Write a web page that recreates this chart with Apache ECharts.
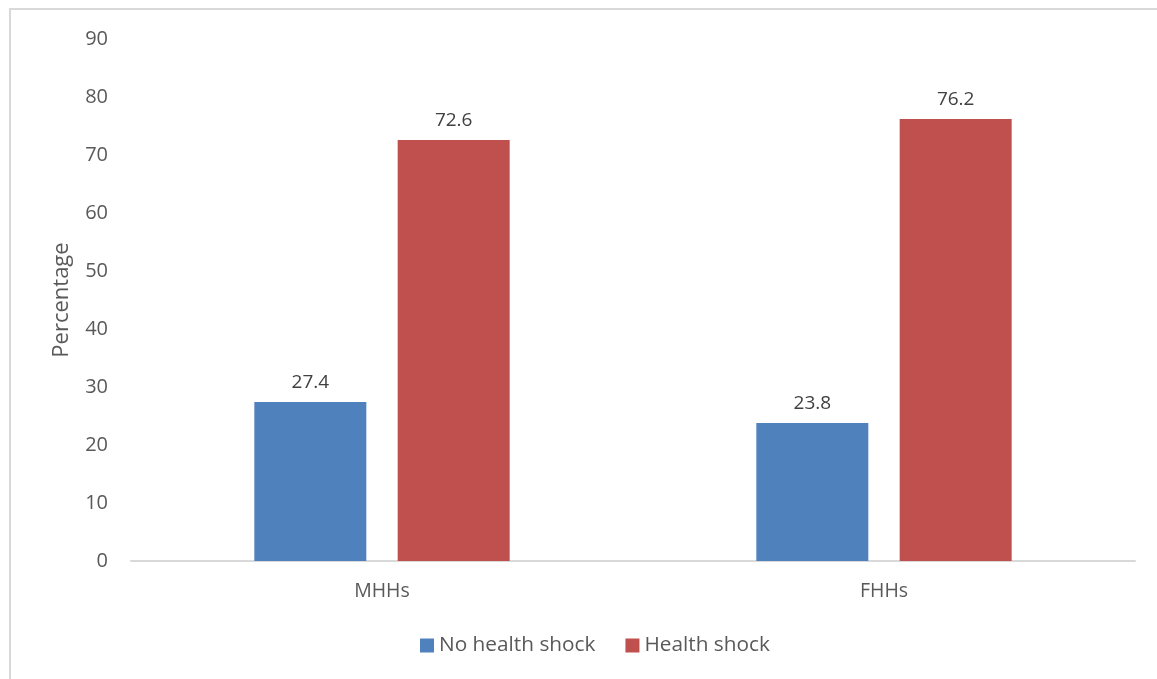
<!DOCTYPE html>
<html>
<head>
<meta charset="utf-8">
<script src="https://cdn.jsdelivr.net/npm/echarts@6/dist/echarts.min.js"></script>
<style>
  html, body { margin: 0; padding: 0; background: #fff; overflow: hidden; }
  #frame { position: absolute; left: 9px; top: 8px; width: 1300px; height: 800px; border: 2px solid #d9d9d9; }
  #main { position: absolute; left: 0; top: 0; width: 1157px; height: 679px; }
</style>
</head>
<body>
<div id="frame"></div>
<div id="main"></div>
<script>
var categories = ["MHHs", "FHHs"];
var noShock = [27.4, 23.8];
var shock = [72.6, 76.2];
var seriesNames = ["No health shock", "Health shock"];

var textColor = "#595959";
var fontName = "'Open Sans', 'Noto Sans', sans-serif";

var chart = echarts.init(document.getElementById("main"));

function barSeries(name, values, color) {
    return {
        name: name,
        type: "bar",
        data: values,
        barWidth: 112,
        barGap: "28%",
        itemStyle: { color: color },
        label: {
            show: true,
            position: "top",
            distance: 10,
            color: "#404040",
            fontSize: 19,
            fontFamily: fontName,
            formatter: function (p) { return p.value.toFixed(1); }
        }
    };
}

chart.setOption({
    animation: false,
    textStyle: { fontFamily: fontName },
    grid: { left: 131, right: 22, top: 39, bottom: 118, outerBoundsMode: "none" },
    legend: {
        bottom: 18,
        left: 415,
        itemWidth: 14,
        itemHeight: 14,
        itemGap: 30,
        icon: "rect",
        textStyle: { color: textColor, fontSize: 20.8, fontFamily: fontName },
        data: seriesNames
    },
    xAxis: {
        type: "category",
        data: categories,
        axisLine: { lineStyle: { color: "#d9d9d9", width: 2 } },
        axisTick: { show: false },
        axisLabel: { color: textColor, fontSize: 19.5, margin: 20 }
    },
    yAxis: {
        type: "value",
        min: 0,
        max: 90,
        interval: 10,
        name: "Percentage",
        nameLocation: "middle",
        nameGap: 58,
        nameTextStyle: { color: textColor, fontSize: 22 },
        axisLine: { show: false },
        axisTick: { show: false },
        splitLine: { show: false },
        axisLabel: { color: textColor, fontSize: 20, margin: 23 }
    },
    series: [
        barSeries(seriesNames[0], noShock, "#4f81bd"),
        barSeries(seriesNames[1], shock, "#c0504d")
    ]
});
</script>
</body>
</html>
